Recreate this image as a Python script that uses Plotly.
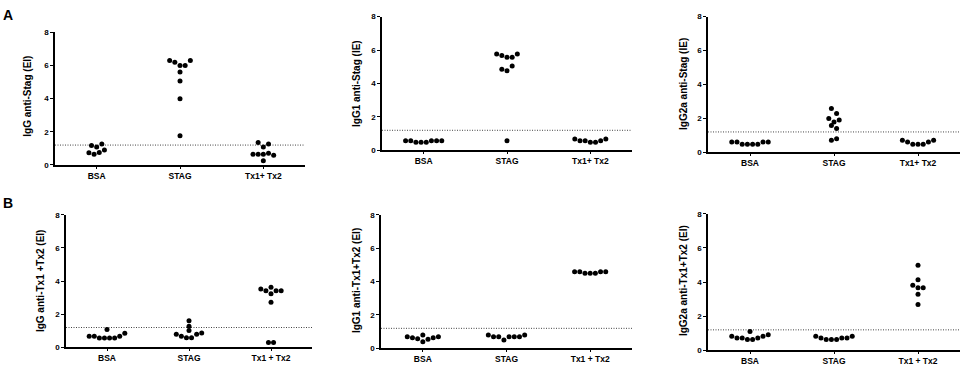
import plotly.graph_objects as go

W, H = 964, 369

# ---------------- data ----------------
categories_A = ["BSA", "STAG", "Tx1+ Tx2"]
categories_B = ["BSA", "STAG", "Tx1 + Tx2"]
cutoff = 1.2
y_ticks = [0, 2, 4, 6, 8]

titles = [
    "IgG anti-Stag (EI)",
    "IgG1 anti-Stag (IE)",
    "IgG2a anti-Stag (IE)",
    "IgG anti-Tx1 +Tx2 (EI)",
    "IgG1 anti-Tx1+Tx2 (EI)",
    "IgG2a anti-Tx1+Tx2 (EI)",
]

# values listed left-to-right as they appear in each column
igg_stag_bsa = [1.18, 0.73, 1.08, 0.65, 1.27, 0.75, 0.9]
igg_stag_stag = [6.3, 6.2, 6.0, 5.6, 5.06, 4.0, 1.76, 6.0, 6.3]
igg_stag_tx = [0.65, 1.35, 0.65, 1.08, 0.65, 0.25, 1.27, 0.7, 0.58]

igg1_stag_bsa = [0.58, 0.58, 0.49, 0.49, 0.49, 0.58, 0.58, 0.58]
igg1_stag_stag = [5.77, 5.67, 4.85, 5.57, 4.76, 0.58, 5.57, 5.05, 5.77]
igg1_stag_tx = [0.68, 0.58, 0.58, 0.49, 0.49, 0.58, 0.68]

igg2a_stag_bsa = [0.61, 0.61, 0.48, 0.48, 0.48, 0.48, 0.61, 0.61]
igg2a_stag_stag = [2.58, 2.0, 1.58, 2.29, 1.79, 1.41, 0.71, 1.91, 0.8]
igg2a_stag_tx = [0.71, 0.61, 0.48, 0.48, 0.48, 0.61, 0.71]

igg_tx_bsa = [0.68, 0.68, 0.57, 1.08, 0.57, 0.57, 0.57, 0.68, 0.86]
igg_tx_stag = [0.8, 1.28, 0.68, 1.61, 1.02, 0.58, 0.58, 0.8, 0.87]
igg_tx_tx = [3.52, 3.42, 0.29, 3.62, 3.23, 2.72, 3.42, 0.29, 3.42]

igg1_tx_bsa = [0.7, 0.64, 0.58, 0.8, 0.39, 0.54, 0.64, 0.7]
igg1_tx_stag = [0.8, 0.7, 0.7, 0.5, 0.7, 0.7, 0.7, 0.8]
igg1_tx_tx = [4.59, 4.59, 4.49, 4.49, 4.49, 4.59, 4.59]

igg2a_tx_bsa = [0.82, 0.72, 0.72, 1.1, 0.63, 0.63, 0.72, 0.82, 0.91]
igg2a_tx_stag = [0.82, 0.72, 0.63, 0.63, 0.63, 0.72, 0.72, 0.82]
igg2a_tx_tx = [3.82, 4.99, 4.13, 3.66, 3.28, 2.69, 3.66]

panel_data = [
    [igg_stag_bsa, igg_stag_stag, igg_stag_tx],
    [igg1_stag_bsa, igg1_stag_stag, igg1_stag_tx],
    [igg2a_stag_bsa, igg2a_stag_stag, igg2a_stag_tx],
    [igg_tx_bsa, igg_tx_stag, igg_tx_tx],
    [igg1_tx_bsa, igg1_tx_stag, igg1_tx_tx],
    [igg2a_tx_bsa, igg2a_tx_stag, igg2a_tx_tx],
]

# ---------------- layout geometry (pixels) ----------------
# (left, right, top(=8), bottom(=0))
panels = [
    (55, 305, 29, 165),
    (382, 632, 13, 150),
    (708, 960, 13, 152),
    (66, 312, 216, 352),
    (381, 632, 216, 353),
    (708, 960, 215, 355),
]
title_pos = [(28, 95), (356, 82), (683, 82), (40, 284), (356, 284), (683, 284)]

FONT = "Liberation Sans, Arial, sans-serif"
DX = 0.062       # horizontal spacing between neighbouring dots (category units)
ROW_THR = 0.3    # values within this range are drawn side by side


def split_rows(idx, vals):
    """Recursively split sorted indices at the largest gap until each row is narrow."""
    if vals[idx[-1]] - vals[idx[0]] <= ROW_THR + 1e-9:
        return [idx]
    gaps = [vals[idx[k + 1]] - vals[idx[k]] for k in range(len(idx) - 1)]
    g = max(range(len(gaps)), key=lambda k: gaps[k])
    return split_rows(idx[:g + 1], vals) + split_rows(idx[g + 1:], vals)


def swarm_offsets(vals):
    """GraphPad-like column scatter: near-equal values placed side by side."""
    idx = sorted(range(len(vals)), key=lambda i: vals[i])
    off = [0.0] * len(vals)
    for r in split_rows(idx, vals):
        r = sorted(r)
        n = len(r)
        for k, i in enumerate(r):
            off[i] = (k - (n - 1) / 2) * DX
    return off


def bold(s):
    return "<b>" + s + "</b>"


fig = go.Figure()
layout = dict(
    width=W, height=H, margin=dict(l=0, r=0, t=0, b=0),
    paper_bgcolor="white", plot_bgcolor="white", showlegend=False,
    font=dict(family=FONT, color="black"),
)
shapes, annotations = [], []

for p, (groups, (l, r, t, b)) in enumerate(zip(panel_data, panels)):
    n = "" if p == 0 else str(p + 1)
    cats = categories_A if p < 3 else categories_B
    xs, ys = [], []
    for ci, vals in enumerate(groups):
        off = swarm_offsets(vals)
        xs += [ci + o for o in off]
        ys += vals
    fig.add_trace(go.Scatter(
        x=xs, y=ys, mode="markers", xaxis="x" + n, yaxis="y" + n,
        marker=dict(size=5, color="black", line=dict(width=0)),
        hoverinfo="y",
    ))
    layout["xaxis" + n] = dict(
        domain=[l / W, r / W], anchor="y" + n, range=[-0.5, 2.5],
        tickmode="array", tickvals=[0, 1, 2],
        ticktext=[bold(c) for c in cats],
        showgrid=False, zeroline=False, showline=True, linecolor="black",
        linewidth=1.5, ticks="outside", ticklen=2, tickwidth=1.2,
        tickcolor="black",
        tickfont=dict(family=FONT, size=8.5, color="black"),
    )
    layout["yaxis" + n] = dict(
        domain=[1 - b / H, 1 - t / H], anchor="x" + n, range=[0, 8],
        tickmode="array", tickvals=y_ticks,
        ticktext=[bold(str(v)) for v in y_ticks],
        showgrid=False, zeroline=False, showline=True, linecolor="black",
        linewidth=1.5, ticks="outside", ticklen=3, tickwidth=1.2,
        tickcolor="black",
        tickfont=dict(family=FONT, size=8, color="black"),
    )
    shapes.append(dict(
        type="line", xref="x" + n + " domain", yref="y" + n,
        x0=0, x1=1, y0=cutoff, y1=cutoff,
        line=dict(color="#444444", width=1, dash="1px,1.5px"), layer="below",
    ))
    tx, ty = title_pos[p]
    annotations.append(dict(
        text=bold(titles[p]), x=tx / W, y=1 - ty / H, xref="paper", yref="paper",
        textangle=-90, showarrow=False, xanchor="center", yanchor="middle",
        font=dict(family=FONT, size=10, color="black"),
    ))

for lab, (px, py) in [("A", (8, 11)), ("B", (8, 204))]:
    annotations.append(dict(
        text=bold(lab), x=px / W, y=1 - py / H, xref="paper", yref="paper",
        showarrow=False, xanchor="center", yanchor="middle",
        font=dict(family=FONT, size=14, color="black"),
    ))

layout["shapes"] = shapes
layout["annotations"] = annotations
fig.update_layout(**layout)
fig.write_html(
    "out.html",
    config={"displayModeBar": False},
    post_script="document.body.style.margin='0';document.body.style.padding='0';",
)
